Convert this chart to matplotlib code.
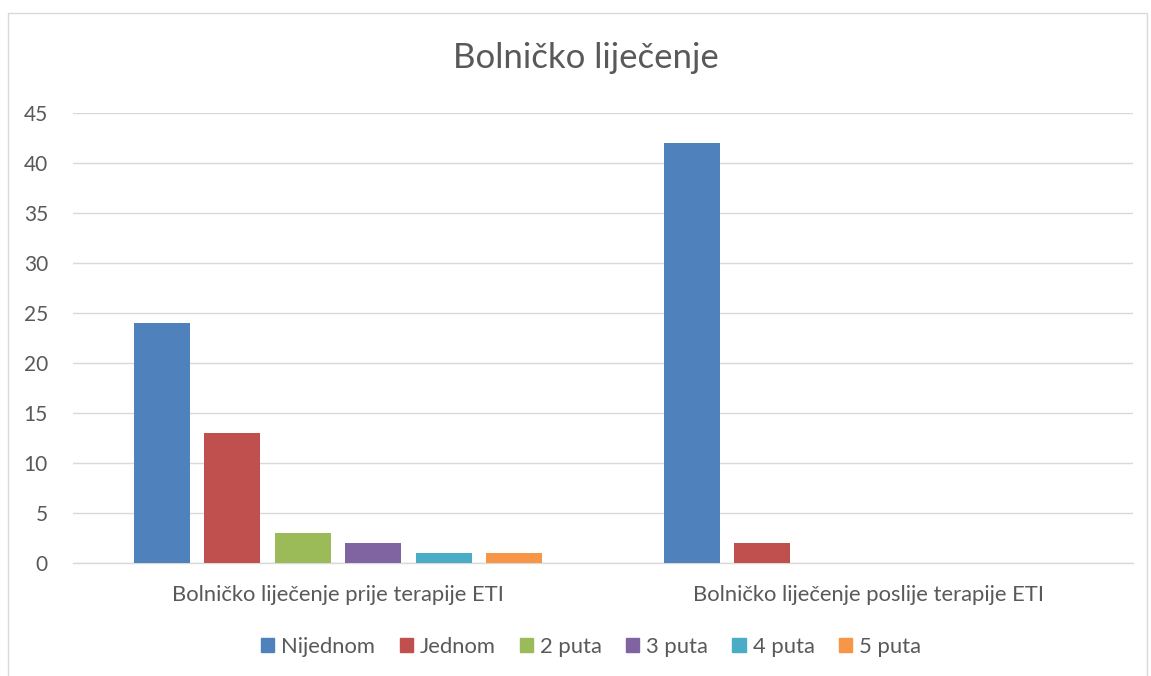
import matplotlib
matplotlib.use("Agg")
import matplotlib.pyplot as plt
import matplotlib.patches as mpatches
import numpy as np

categories = ["Bolničko liječenje prije terapije ETI", "Bolničko liječenje poslije terapije ETI"]
series_names = ["Nijednom", "Jednom", "2 puta", "3 puta", "4 puta", "5 puta"]
nijednom = [24, 42]
jednom = [13, 2]
dva_puta = [3, 0]
tri_puta = [2, 0]
cetiri_puta = [1, 0]
pet_puta = [1, 0]
series_values = [nijednom, jednom, dva_puta, tri_puta, cetiri_puta, pet_puta]
colors = ["#4F81BD", "#C0504D", "#9BBB59", "#8064A2", "#4BACC6", "#F79646"]
yticks = [0, 5, 10, 15, 20, 25, 30, 35, 40, 45]

plt.rcParams['font.family'] = ['Lato', 'DejaVu Sans']
text_color = "#595959"
grid_color = "#D9D9D9"

W, H = 1151, 676
fig = plt.figure(figsize=(W / 100, H / 100), dpi=100)
fig.patch.set_facecolor("white")

# chart border
fig.patches.append(mpatches.Rectangle((8 / W, -0.01), (1147 - 8) / W, 1 - 13 / H + 0.01,
                                      transform=fig.transFigure, fill=False,
                                      edgecolor=grid_color, linewidth=1.0))

left, right, top, bottom = 73, 1133, 113, 563
ax = fig.add_axes([left / W, 1 - bottom / H, (right - left) / W, (bottom - top) / H])

x = np.arange(len(categories))
slot = 70.5 / 530
bw = 56 / 530
for k, (vals, c, name) in enumerate(zip(series_values, colors, series_names)):
    ax.bar(x + (k - 2.5) * slot, vals, width=bw, color=c, label=name, zorder=3)

ax.set_xlim(-0.5, 1.5)
ax.set_ylim(0, 45)
ax.set_yticks(yticks)
ax.set_yticklabels([str(t) for t in yticks])
ax.set_xticks(x)
ax.set_xticklabels(categories)
ax.grid(axis="y", color=grid_color, linewidth=1.0, zorder=0)
for s in ["top", "right", "left"]:
    ax.spines[s].set_visible(False)
ax.spines["bottom"].set_color(grid_color)
ax.spines["bottom"].set_linewidth(1.0)
ax.tick_params(axis="both", length=0, colors=text_color)
ax.tick_params(axis="y", pad=18, labelsize=15)
ax.tick_params(axis="x", pad=16, labelsize=15.8)

fig.text(586 / W, 1 - 58 / H, "Bolničko liječenje", ha="center", va="center",
         fontsize=25, color=text_color)

handles = [mpatches.Patch(color=c) for c in colors]
fig.legend(handles, series_names, loc="center", bbox_to_anchor=(591 / W, 1 - 647 / H),
           ncol=6, frameon=False, fontsize=15.8, labelcolor=text_color,
           handlelength=0.6, handleheight=0.6, handletextpad=0.32, columnspacing=1.1)

fig.savefig("out.png", dpi=100)
